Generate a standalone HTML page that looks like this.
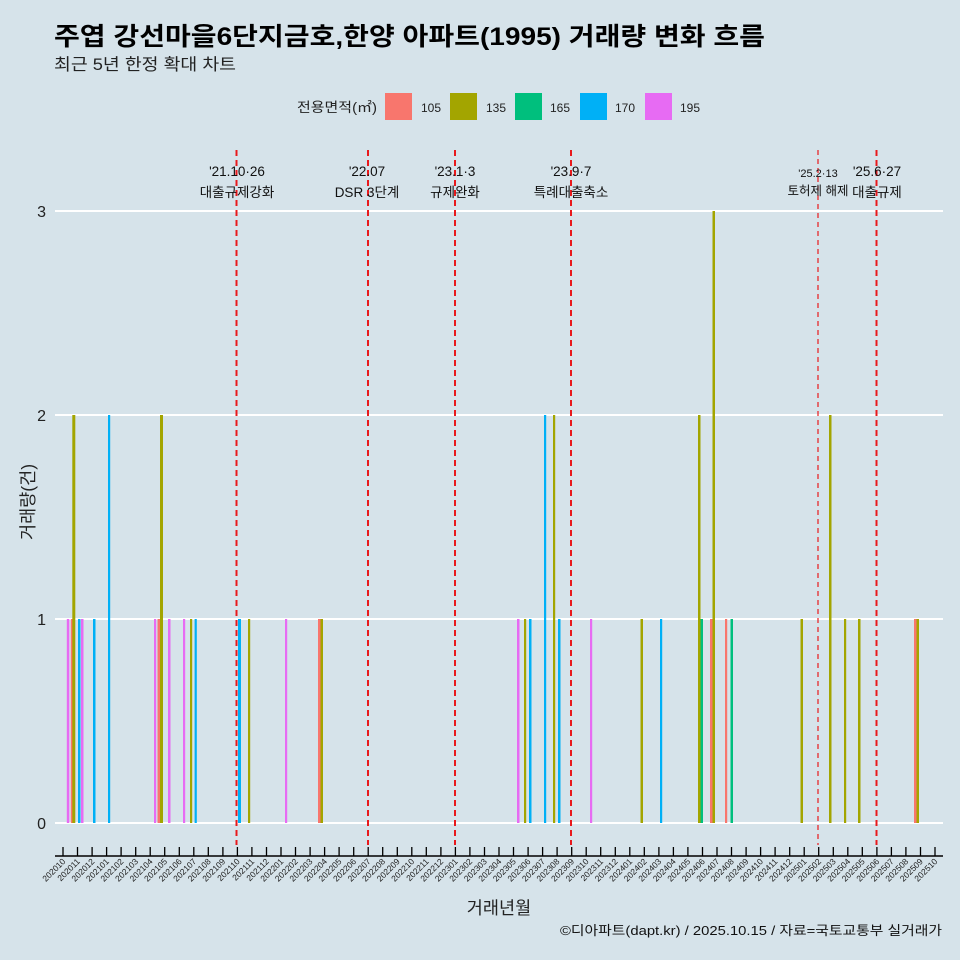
<!DOCTYPE html>
<html><head><meta charset="utf-8"><style>
html,body{margin:0;padding:0;background:#D6E3EA;}
svg{display:block;font-family:"Liberation Sans","Noto Sans CJK KR",sans-serif;}
</style></head><body>
<svg width="960" height="960" viewBox="0 0 960 960" xmlns="http://www.w3.org/2000/svg">
<rect width="960" height="960" fill="#D6E3EA"/>
<text x="54" y="45" font-size="25" font-weight="bold" fill="#000" textLength="711" lengthAdjust="spacingAndGlyphs">주엽 강선마을6단지금호,한양 아파트(1995) 거래량 변화 흐름</text>
<text x="54" y="70" font-size="16.5" fill="#222" textLength="182" lengthAdjust="spacingAndGlyphs">최근 5년 한정 확대 차트</text>
<g font-size="12" fill="#222">
<text x="297" y="112" font-size="13.5" textLength="80" lengthAdjust="spacingAndGlyphs">전용면적(㎡)</text>
<rect x="385" y="93" width="27" height="27" fill="#F8766D"/><text x="421" y="112">105</text>
<rect x="450" y="93" width="27" height="27" fill="#A3A500"/><text x="486" y="112">135</text>
<rect x="515" y="93" width="27" height="27" fill="#00BF7D"/><text x="550" y="112">165</text>
<rect x="580" y="93" width="27" height="27" fill="#00B0F6"/><text x="615" y="112">170</text>
<rect x="645" y="93" width="27" height="27" fill="#E76BF3"/><text x="680" y="112">195</text>
</g>
<g stroke="#fff" stroke-width="2">
<line x1="55" x2="943" y1="823" y2="823"/><line x1="55" x2="943" y1="619" y2="619"/>
<line x1="55" x2="943" y1="415" y2="415"/><line x1="55" x2="943" y1="211" y2="211"/>
</g>
<g font-size="16" fill="#222" text-anchor="end">
<text x="46" y="829">0</text><text x="46" y="625">1</text><text x="46" y="421">2</text><text x="46" y="217">3</text>
</g>
<text transform="translate(34,502) rotate(-90)" font-size="17.5" fill="#222" text-anchor="middle">거래량(건)</text>
<g>
<rect x="66.8" y="619" width="2.5" height="204" fill="#E76BF3"/>
<rect x="70.8" y="619" width="2.5" height="204" fill="#F8766D"/>
<rect x="72.3" y="415" width="3" height="408" fill="#A3A500"/>
<rect x="78" y="619" width="2.5" height="204" fill="#00B0F6"/>
<rect x="81" y="619" width="2.5" height="204" fill="#E76BF3"/>
<rect x="93" y="619" width="2.5" height="204" fill="#00B0F6"/>
<rect x="108" y="415" width="2.2" height="408" fill="#00B0F6"/>
<rect x="154" y="619" width="2.2" height="204" fill="#E76BF3"/>
<rect x="157.5" y="619" width="2.5" height="204" fill="#F8766D"/>
<rect x="160" y="415" width="3" height="408" fill="#A3A500"/>
<rect x="168" y="619" width="2.5" height="204" fill="#E76BF3"/>
<rect x="183" y="619" width="2.2" height="204" fill="#E76BF3"/>
<rect x="190" y="619" width="2.2" height="204" fill="#A3A500"/>
<rect x="194.6" y="619" width="2.2" height="204" fill="#00B0F6"/>
<rect x="238" y="619" width="3" height="204" fill="#00B0F6"/>
<rect x="248" y="619" width="2.2" height="204" fill="#A3A500"/>
<rect x="285" y="619" width="2.2" height="204" fill="#E76BF3"/>
<rect x="318" y="619" width="2.5" height="204" fill="#F8766D"/>
<rect x="320.5" y="619" width="2.5" height="204" fill="#A3A500"/>
<rect x="517" y="619" width="2.5" height="204" fill="#E76BF3"/>
<rect x="524" y="619" width="2.2" height="204" fill="#A3A500"/>
<rect x="529" y="619" width="2.5" height="204" fill="#00B0F6"/>
<rect x="544" y="415" width="2.2" height="408" fill="#00B0F6"/>
<rect x="553" y="415" width="2.2" height="408" fill="#A3A500"/>
<rect x="558" y="619" width="2.5" height="204" fill="#00B0F6"/>
<rect x="590" y="619" width="2.2" height="204" fill="#E76BF3"/>
<rect x="640.5" y="619" width="2.5" height="204" fill="#A3A500"/>
<rect x="660" y="619" width="2.2" height="204" fill="#00B0F6"/>
<rect x="698" y="415" width="2.5" height="408" fill="#A3A500"/>
<rect x="700.5" y="619" width="2.5" height="204" fill="#00BF7D"/>
<rect x="710" y="619" width="2.5" height="204" fill="#F8766D"/>
<rect x="712.5" y="211" width="2.5" height="612" fill="#A3A500"/>
<rect x="725" y="619" width="2.2" height="204" fill="#F8766D"/>
<rect x="730.5" y="619" width="2.5" height="204" fill="#00BF7D"/>
<rect x="800.5" y="619" width="2.5" height="204" fill="#A3A500"/>
<rect x="829" y="415" width="2.5" height="408" fill="#A3A500"/>
<rect x="844" y="619" width="2.2" height="204" fill="#A3A500"/>
<rect x="858" y="619" width="2.5" height="204" fill="#A3A500"/>
<rect x="914" y="619" width="2.5" height="204" fill="#F8766D"/>
<rect x="916.5" y="619" width="2.5" height="204" fill="#A3A500"/>
</g>
<g stroke="#E8191C" stroke-width="2" stroke-dasharray="6,4">
<line x1="236.5" x2="236.5" y1="150" y2="845"/>
<line x1="368" x2="368" y1="150" y2="845"/>
<line x1="455" x2="455" y1="150" y2="845"/>
<line x1="571" x2="571" y1="150" y2="845"/>
<line x1="876.5" x2="876.5" y1="150" y2="845"/>
</g>
<line x1="818" x2="818" y1="150" y2="845" stroke="#E8191C" stroke-width="1.2" stroke-dasharray="5,4"/>
<g font-size="13.5" fill="#111" text-anchor="middle">
<text x="237" y="176">'21.10·26</text><text x="237" y="197">대출규제강화</text>
<text x="367" y="176">'22.07</text><text x="367" y="197">DSR 3단계</text>
<text x="455" y="176">'23.1·3</text><text x="455" y="197">규제완화</text>
<text x="571" y="176">'23.9·7</text><text x="571" y="197">특례대출축소</text>
<text x="818" y="177" font-size="11">'25.2·13</text><text x="818" y="195" font-size="12.5">토허제 해제</text>
<text x="877" y="176">'25.6·27</text><text x="877" y="197">대출규제</text>
</g>
<line x1="55" x2="943" y1="856" y2="856" stroke="#000" stroke-width="1.5"/>
<g stroke="#000" stroke-width="1.3">
<line x1="63.0" x2="63.0" y1="847" y2="856"/><line x1="77.5" x2="77.5" y1="847" y2="856"/><line x1="92.1" x2="92.1" y1="847" y2="856"/><line x1="106.6" x2="106.6" y1="847" y2="856"/><line x1="121.1" x2="121.1" y1="847" y2="856"/><line x1="135.7" x2="135.7" y1="847" y2="856"/><line x1="150.2" x2="150.2" y1="847" y2="856"/><line x1="164.7" x2="164.7" y1="847" y2="856"/><line x1="179.3" x2="179.3" y1="847" y2="856"/><line x1="193.8" x2="193.8" y1="847" y2="856"/><line x1="208.3" x2="208.3" y1="847" y2="856"/><line x1="222.9" x2="222.9" y1="847" y2="856"/><line x1="237.4" x2="237.4" y1="847" y2="856"/><line x1="251.9" x2="251.9" y1="847" y2="856"/><line x1="266.5" x2="266.5" y1="847" y2="856"/><line x1="281.0" x2="281.0" y1="847" y2="856"/><line x1="295.5" x2="295.5" y1="847" y2="856"/><line x1="310.1" x2="310.1" y1="847" y2="856"/><line x1="324.6" x2="324.6" y1="847" y2="856"/><line x1="339.1" x2="339.1" y1="847" y2="856"/><line x1="353.7" x2="353.7" y1="847" y2="856"/><line x1="368.2" x2="368.2" y1="847" y2="856"/><line x1="382.7" x2="382.7" y1="847" y2="856"/><line x1="397.3" x2="397.3" y1="847" y2="856"/><line x1="411.8" x2="411.8" y1="847" y2="856"/><line x1="426.3" x2="426.3" y1="847" y2="856"/><line x1="440.9" x2="440.9" y1="847" y2="856"/><line x1="455.4" x2="455.4" y1="847" y2="856"/><line x1="469.9" x2="469.9" y1="847" y2="856"/><line x1="484.5" x2="484.5" y1="847" y2="856"/><line x1="499.0" x2="499.0" y1="847" y2="856"/><line x1="513.5" x2="513.5" y1="847" y2="856"/><line x1="528.1" x2="528.1" y1="847" y2="856"/><line x1="542.6" x2="542.6" y1="847" y2="856"/><line x1="557.1" x2="557.1" y1="847" y2="856"/><line x1="571.7" x2="571.7" y1="847" y2="856"/><line x1="586.2" x2="586.2" y1="847" y2="856"/><line x1="600.7" x2="600.7" y1="847" y2="856"/><line x1="615.3" x2="615.3" y1="847" y2="856"/><line x1="629.8" x2="629.8" y1="847" y2="856"/><line x1="644.3" x2="644.3" y1="847" y2="856"/><line x1="658.9" x2="658.9" y1="847" y2="856"/><line x1="673.4" x2="673.4" y1="847" y2="856"/><line x1="687.9" x2="687.9" y1="847" y2="856"/><line x1="702.5" x2="702.5" y1="847" y2="856"/><line x1="717.0" x2="717.0" y1="847" y2="856"/><line x1="731.5" x2="731.5" y1="847" y2="856"/><line x1="746.1" x2="746.1" y1="847" y2="856"/><line x1="760.6" x2="760.6" y1="847" y2="856"/><line x1="775.1" x2="775.1" y1="847" y2="856"/><line x1="789.7" x2="789.7" y1="847" y2="856"/><line x1="804.2" x2="804.2" y1="847" y2="856"/><line x1="818.7" x2="818.7" y1="847" y2="856"/><line x1="833.3" x2="833.3" y1="847" y2="856"/><line x1="847.8" x2="847.8" y1="847" y2="856"/><line x1="862.3" x2="862.3" y1="847" y2="856"/><line x1="876.9" x2="876.9" y1="847" y2="856"/><line x1="891.4" x2="891.4" y1="847" y2="856"/><line x1="905.9" x2="905.9" y1="847" y2="856"/><line x1="920.5" x2="920.5" y1="847" y2="856"/><line x1="935.0" x2="935.0" y1="847" y2="856"/>
</g>
<g font-size="8.5" fill="#222" text-anchor="end">
<text transform="translate(66.0,862) rotate(-45)">202010</text><text transform="translate(80.5,862) rotate(-45)">202011</text><text transform="translate(95.1,862) rotate(-45)">202012</text><text transform="translate(109.6,862) rotate(-45)">202101</text><text transform="translate(124.1,862) rotate(-45)">202102</text><text transform="translate(138.7,862) rotate(-45)">202103</text><text transform="translate(153.2,862) rotate(-45)">202104</text><text transform="translate(167.7,862) rotate(-45)">202105</text><text transform="translate(182.3,862) rotate(-45)">202106</text><text transform="translate(196.8,862) rotate(-45)">202107</text><text transform="translate(211.3,862) rotate(-45)">202108</text><text transform="translate(225.9,862) rotate(-45)">202109</text><text transform="translate(240.4,862) rotate(-45)">202110</text><text transform="translate(254.9,862) rotate(-45)">202111</text><text transform="translate(269.5,862) rotate(-45)">202112</text><text transform="translate(284.0,862) rotate(-45)">202201</text><text transform="translate(298.5,862) rotate(-45)">202202</text><text transform="translate(313.1,862) rotate(-45)">202203</text><text transform="translate(327.6,862) rotate(-45)">202204</text><text transform="translate(342.1,862) rotate(-45)">202205</text><text transform="translate(356.7,862) rotate(-45)">202206</text><text transform="translate(371.2,862) rotate(-45)">202207</text><text transform="translate(385.7,862) rotate(-45)">202208</text><text transform="translate(400.3,862) rotate(-45)">202209</text><text transform="translate(414.8,862) rotate(-45)">202210</text><text transform="translate(429.3,862) rotate(-45)">202211</text><text transform="translate(443.9,862) rotate(-45)">202212</text><text transform="translate(458.4,862) rotate(-45)">202301</text><text transform="translate(472.9,862) rotate(-45)">202302</text><text transform="translate(487.5,862) rotate(-45)">202303</text><text transform="translate(502.0,862) rotate(-45)">202304</text><text transform="translate(516.5,862) rotate(-45)">202305</text><text transform="translate(531.1,862) rotate(-45)">202306</text><text transform="translate(545.6,862) rotate(-45)">202307</text><text transform="translate(560.1,862) rotate(-45)">202308</text><text transform="translate(574.7,862) rotate(-45)">202309</text><text transform="translate(589.2,862) rotate(-45)">202310</text><text transform="translate(603.7,862) rotate(-45)">202311</text><text transform="translate(618.3,862) rotate(-45)">202312</text><text transform="translate(632.8,862) rotate(-45)">202401</text><text transform="translate(647.3,862) rotate(-45)">202402</text><text transform="translate(661.9,862) rotate(-45)">202403</text><text transform="translate(676.4,862) rotate(-45)">202404</text><text transform="translate(690.9,862) rotate(-45)">202405</text><text transform="translate(705.5,862) rotate(-45)">202406</text><text transform="translate(720.0,862) rotate(-45)">202407</text><text transform="translate(734.5,862) rotate(-45)">202408</text><text transform="translate(749.1,862) rotate(-45)">202409</text><text transform="translate(763.6,862) rotate(-45)">202410</text><text transform="translate(778.1,862) rotate(-45)">202411</text><text transform="translate(792.7,862) rotate(-45)">202412</text><text transform="translate(807.2,862) rotate(-45)">202501</text><text transform="translate(821.7,862) rotate(-45)">202502</text><text transform="translate(836.3,862) rotate(-45)">202503</text><text transform="translate(850.8,862) rotate(-45)">202504</text><text transform="translate(865.3,862) rotate(-45)">202505</text><text transform="translate(879.9,862) rotate(-45)">202506</text><text transform="translate(894.4,862) rotate(-45)">202507</text><text transform="translate(908.9,862) rotate(-45)">202508</text><text transform="translate(923.5,862) rotate(-45)">202509</text><text transform="translate(938.0,862) rotate(-45)">202510</text>
</g>
<text x="499" y="914" font-size="17.5" fill="#222" text-anchor="middle">거래년월</text>
<text x="942" y="935" font-size="13" fill="#111" text-anchor="end" textLength="382" lengthAdjust="spacingAndGlyphs">©디아파트(dapt.kr) / 2025.10.15 / 자료=국토교통부 실거래가</text>
</svg>
</body></html>
